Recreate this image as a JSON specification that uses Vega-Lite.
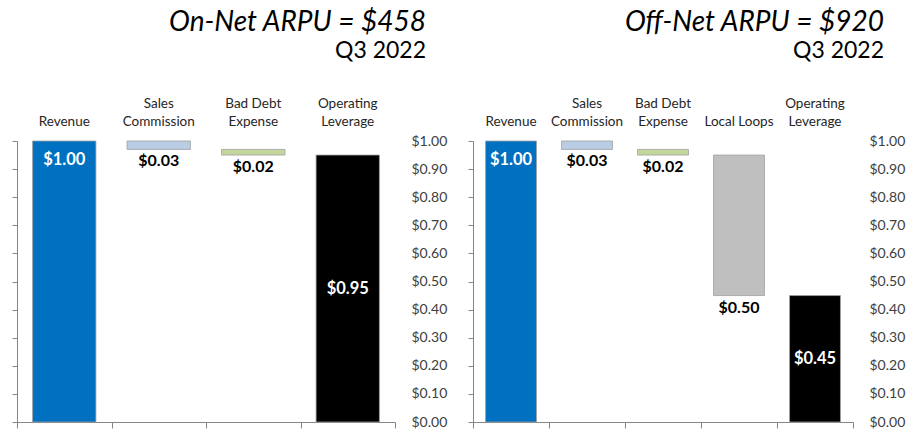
{
  "$schema": "https://vega.github.io/schema/vega-lite/v6.json",
  "background": "white",
  "padding": {"left": 11, "top": 9, "right": 5, "bottom": 2},
  "spacing": 20,
  "config": {
    "font": "Lato",
    "view": {"stroke": null},
    "title": {"anchor": "end", "frame": "group", "fontStyle": "italic", "fontWeight": "normal", "fontSize": 28, "color": "black", "subtitleFontSize": 23, "subtitleColor": "black", "subtitleFont": "Lato", "subtitlePadding": 0, "dx": 31, "offset": 33}
  },
  "hconcat": [
    {
      "width": 378,
      "height": 281,
      "title": {"text": "On-Net ARPU = $458", "subtitle": "Q3 2022"},
      "data": {"values": [
        {"category": "Revenue", "lo": 0, "hi": 1.0, "value": 1.0, "kind": "start"},
        {"category": "Sales Commission", "lo": 0.97, "hi": 1.0, "value": 0.03, "kind": "cost"},
        {"category": "Bad Debt Expense", "lo": 0.95, "hi": 0.97, "value": 0.02, "kind": "cost"},
        {"category": "Operating Leverage", "lo": 0, "hi": 0.95, "value": 0.95, "kind": "end"}
      ]},
      "layer": [
        {
          "mark": {"type": "bar", "stroke": "#a0a0a0", "strokeWidth": 0.8, "width": {"band": 0.67}},
          "encoding": {
            "x": {"field": "category", "type": "nominal", "sort": null, "scale": {"paddingInner": 0, "paddingOuter": 0},
              "axis": {"orient": "top", "title": null, "domain": false, "ticks": false, "tickSize": 0, "labelAngle": 0, "labelFontSize": 13.5, "labelColor": "#262626", "labelPadding": 31, "labelLineHeight": 18,
                "labelExpr": "datum.label == 'Sales Commission' ? ['Sales','Commission'] : datum.label == 'Bad Debt Expense' ? ['Bad Debt','Expense'] : datum.label == 'Operating Leverage' ? ['Operating','Leverage'] : ['', datum.label]"}},
            "y": {"field": "hi", "type": "quantitative", "scale": {"domain": [0, 1], "nice": false},
              "axis": {"orient": "left", "title": null, "labels": false, "grid": false, "tickCount": 10, "tickSize": 5, "tickColor": "#868686", "domainColor": "#868686"}},
            "y2": {"field": "lo"},
            "color": {"field": "category", "type": "nominal", "legend": null,
              "scale": {"domain": ["Revenue", "Sales Commission", "Bad Debt Expense", "Local Loops", "Operating Leverage"], "range": ["#0070c0", "#b9cde5", "#c3d69b", "#bfbfbf", "#000000"]}}
          }
        },
        {
          "transform": [{"filter": "datum.kind == 'cost'"}],
          "mark": {"type": "text", "baseline": "top", "dy": 4, "fontWeight": "bold", "fontSize": 16, "color": "black"},
          "encoding": {
            "x": {"field": "category", "type": "nominal", "sort": null,
              "axis": {"orient": "bottom", "title": null, "labels": false, "domain": true, "domainColor": "#868686", "tickColor": "#868686", "tickBand": "extent", "tickSize": 6}},
            "y": {"field": "lo", "type": "quantitative",
              "axis": {"orient": "right", "title": null, "domain": false, "ticks": false, "tickSize": 0, "grid": false, "format": "$.2f", "tickCount": 10, "labelFontSize": 14, "labelPadding": 16, "labelColor": "#404040"}},
            "text": {"field": "value", "type": "quantitative", "format": "$.2f"}
          }
        },
        {
          "transform": [{"filter": "datum.kind == 'start'"}],
          "mark": {"type": "text", "baseline": "top", "dy": 11, "fontWeight": "bold", "fontSize": 16.5, "color": "white"},
          "encoding": {
            "x": {"field": "category", "type": "nominal", "sort": null, "axis": null},
            "y": {"field": "hi", "type": "quantitative", "axis": null},
            "text": {"field": "value", "type": "quantitative", "format": "$.2f"}
          }
        },
        {
          "transform": [{"filter": "datum.kind == 'end'"}, {"calculate": "(datum.lo + datum.hi) / 2", "as": "mid"}],
          "mark": {"type": "text", "baseline": "middle", "fontWeight": "bold", "fontSize": 16.5, "color": "white"},
          "encoding": {
            "x": {"field": "category", "type": "nominal", "sort": null, "axis": null},
            "y": {"field": "mid", "type": "quantitative", "axis": null},
            "text": {"field": "value", "type": "quantitative", "format": "$.2f"}
          }
        }
      ],
      "resolve": {"axis": {"x": "independent", "y": "independent"}}
    },
    {
      "width": 380,
      "height": 281,
      "title": {"text": "Off-Net ARPU = $920", "subtitle": "Q3 2022"},
      "data": {"values": [
        {"category": "Revenue", "lo": 0, "hi": 1.0, "value": 1.0, "kind": "start"},
        {"category": "Sales Commission", "lo": 0.97, "hi": 1.0, "value": 0.03, "kind": "cost"},
        {"category": "Bad Debt Expense", "lo": 0.95, "hi": 0.97, "value": 0.02, "kind": "cost"},
        {"category": "Local Loops", "lo": 0.45, "hi": 0.95, "value": 0.5, "kind": "cost"},
        {"category": "Operating Leverage", "lo": 0, "hi": 0.45, "value": 0.45, "kind": "end"}
      ]},
      "layer": [
        {
          "mark": {"type": "bar", "stroke": "#a0a0a0", "strokeWidth": 0.8, "width": {"band": 0.67}},
          "encoding": {
            "x": {"field": "category", "type": "nominal", "sort": null, "scale": {"paddingInner": 0, "paddingOuter": 0},
              "axis": {"orient": "top", "title": null, "domain": false, "ticks": false, "tickSize": 0, "labelAngle": 0, "labelFontSize": 13.5, "labelColor": "#262626", "labelPadding": 31, "labelLineHeight": 18,
                "labelExpr": "datum.label == 'Sales Commission' ? ['Sales','Commission'] : datum.label == 'Bad Debt Expense' ? ['Bad Debt','Expense'] : datum.label == 'Operating Leverage' ? ['Operating','Leverage'] : ['', datum.label]"}},
            "y": {"field": "hi", "type": "quantitative", "scale": {"domain": [0, 1], "nice": false},
              "axis": {"orient": "left", "title": null, "labels": false, "grid": false, "tickCount": 10, "tickSize": 5, "tickColor": "#868686", "domainColor": "#868686"}},
            "y2": {"field": "lo"},
            "color": {"field": "category", "type": "nominal", "legend": null,
              "scale": {"domain": ["Revenue", "Sales Commission", "Bad Debt Expense", "Local Loops", "Operating Leverage"], "range": ["#0070c0", "#b9cde5", "#c3d69b", "#bfbfbf", "#000000"]}}
          }
        },
        {
          "transform": [{"filter": "datum.kind == 'cost'"}],
          "mark": {"type": "text", "baseline": "top", "dy": 4, "fontWeight": "bold", "fontSize": 16, "color": "black"},
          "encoding": {
            "x": {"field": "category", "type": "nominal", "sort": null,
              "axis": {"orient": "bottom", "title": null, "labels": false, "domain": true, "domainColor": "#868686", "tickColor": "#868686", "tickBand": "extent", "tickSize": 6}},
            "y": {"field": "lo", "type": "quantitative",
              "axis": {"orient": "right", "title": null, "domain": false, "ticks": false, "tickSize": 0, "grid": false, "format": "$.2f", "tickCount": 10, "labelFontSize": 14, "labelPadding": 16, "labelColor": "#404040"}},
            "text": {"field": "value", "type": "quantitative", "format": "$.2f"}
          }
        },
        {
          "transform": [{"filter": "datum.kind == 'start'"}],
          "mark": {"type": "text", "baseline": "top", "dy": 11, "fontWeight": "bold", "fontSize": 16.5, "color": "white"},
          "encoding": {
            "x": {"field": "category", "type": "nominal", "sort": null, "axis": null},
            "y": {"field": "hi", "type": "quantitative", "axis": null},
            "text": {"field": "value", "type": "quantitative", "format": "$.2f"}
          }
        },
        {
          "transform": [{"filter": "datum.kind == 'end'"}, {"calculate": "(datum.lo + datum.hi) / 2", "as": "mid"}],
          "mark": {"type": "text", "baseline": "middle", "fontWeight": "bold", "fontSize": 16.5, "color": "white"},
          "encoding": {
            "x": {"field": "category", "type": "nominal", "sort": null, "axis": null},
            "y": {"field": "mid", "type": "quantitative", "axis": null},
            "text": {"field": "value", "type": "quantitative", "format": "$.2f"}
          }
        }
      ],
      "resolve": {"axis": {"x": "independent", "y": "independent"}}
    }
  ]
}
